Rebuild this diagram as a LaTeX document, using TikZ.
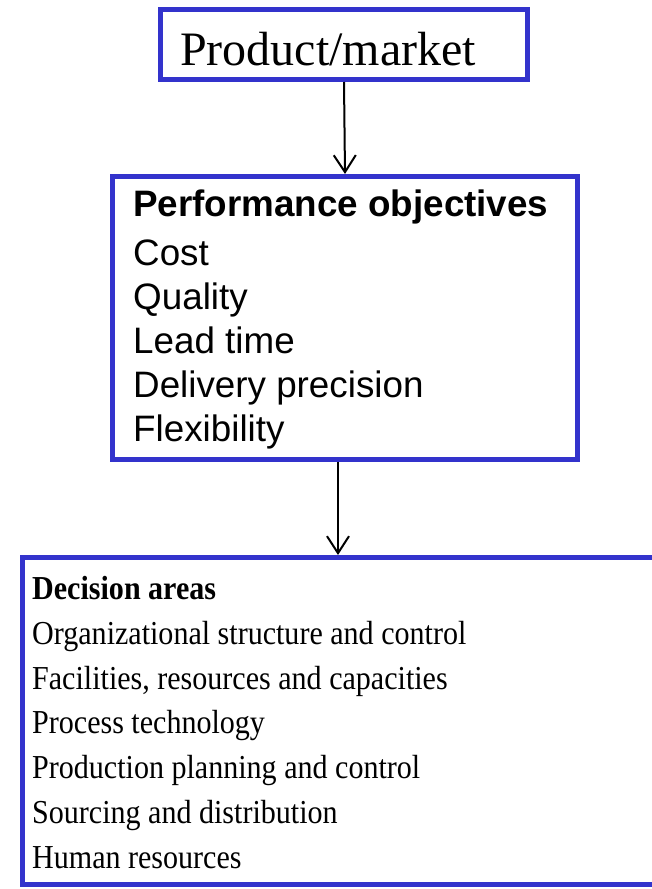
\documentclass[tikz,border=0pt]{standalone}
\usepackage{fontspec}
\setmainfont{Liberation Serif}
\newfontfamily\mysans{Liberation Sans}
\newfontfamily\condserif[FakeStretch=0.897]{Liberation Serif}
\usetikzlibrary{arrows.meta}
\definecolor{boxblue}{RGB}{51,51,204}
\begin{document}
\begin{tikzpicture}[x=1pt,y=-1pt,
  box/.style={draw=boxblue, line width=5pt, inner sep=0pt, fill=white},
  flow/.style={-{Straight Barb[length=17pt,width=22pt]}, line width=2pt, black},
  txt/.style={inner sep=0pt, anchor=base west, align=left}]
\useasboundingbox[fill=white] (0,0) rectangle (651,889);
% boxes
\node[box, minimum width=367pt, minimum height=70pt] (pm) at (344,44.5) {};
\node[box, minimum width=465pt, minimum height=283pt] (po) at (345,318) {};
\node[box, minimum width=697.5pt, minimum height=327pt] (da) at (371.25,721) {};
% texts (anchor = baseline of the last line)
\node[txt, font=\fontsize{48}{58}\selectfont] (pmtext) at (180,65) {Product/market};
\node[txt, font=\mysans\fontsize{36.8}{44}\selectfont] (potext) at (133,441)
  {\textbf{Performance objectives}\\[5pt]Cost\\Quality\\Lead time\\Delivery precision\\Flexibility};
\node[txt, font=\condserif\fontsize{33.5}{44.7}\selectfont] (datext) at (32,868)
  {\textbf{Decision areas}\\Organizational structure and control\\Facilities, resources and capacities\\Process technology\\Production planning and control\\Sourcing and distribution\\Human resources};
% connectors
\draw[flow] (pm.south) -- (po.north);
\draw[flow] ([xshift=-7pt]po.south) -- ([xshift=-7pt]po.south |- da.north);
\end{tikzpicture}
\end{document}
